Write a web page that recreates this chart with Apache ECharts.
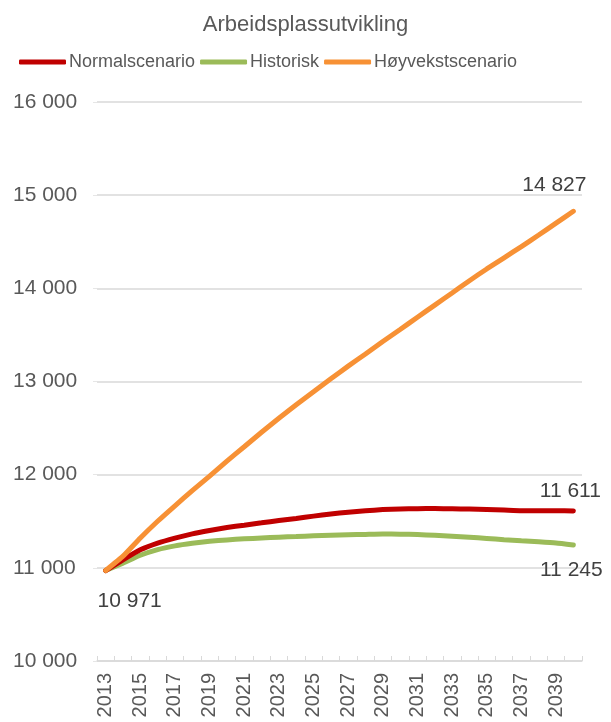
<!DOCTYPE html>
<html>
<head>
<meta charset="utf-8">
<script src="https://cdn.jsdelivr.net/npm/echarts@6/dist/echarts.min.js"></script>
<style>
  html, body { margin: 0; padding: 0; background: #fff; }
  #chart { width: 611px; height: 722px; }
</style>
</head>
<body>
<div id="chart"></div>
<script>
const years = ['2013','2014','2015','2016','2017','2018','2019','2020','2021','2022','2023','2024','2025','2026',
  '2027','2028','2029','2030','2031','2032','2033','2034','2035','2036','2037','2038','2039','2040']

const normal = [10971, 11086, 11193, 11265, 11319, 11365, 11401, 11433, 11458, 11483, 11508, 11530, 11555, 11578,
  11597, 11613, 11625, 11631, 11635, 11636, 11634, 11631, 11626, 11620, 11613, 11614, 11614, 11611]

const historisk = [10971, 11050, 11135, 11196, 11236, 11264, 11285, 11300, 11311, 11321, 11329, 11336, 11344, 11350,
  11355, 11359, 11363, 11361, 11357, 11350, 11340, 11329, 11316, 11302, 11290, 11279, 11266, 11245]

const hoyvekst = [10971, 11125, 11320, 11500, 11666, 11828, 11985, 12145, 12300, 12455, 12605, 12750, 12890, 13030,
  13165, 13295, 13430, 13558, 13690, 13820, 13950, 14082, 14208, 14328, 14448, 14572, 14700, 14827]

const fmt = v => String(v).replace(/\B(?=(\d{3})+(?!\d))/g, ' ')

// label only on selected points
const withLabels = (values, labels) => values.map((v, i) => {
  if (!labels[i]) return v
  return {
    value: v,
    label: Object.assign({
      show: true,
      formatter: p => fmt(p.value),
      color: '#404040',
      fontSize: 21,
      fontFamily: 'Liberation Sans'
    }, labels[i])
  }
})

const last = years.length - 1

const chart = echarts.init(document.getElementById('chart'))

const lineSeries = (name, values, color, labels, z) => ({
  name: name,
  type: 'line',
  data: withLabels(values, labels),
  showSymbol: true,
  symbol: 'circle',
  symbolSize: 0,
  smooth: 0.15,
  z: z,
  label: { show: false },
  lineStyle: { color: color, width: 5, cap: 'round' },
  itemStyle: { color: color }
})

chart.setOption({
  animation: false,
  textStyle: { fontFamily: 'Liberation Sans' },
  title: {
    text: 'Arbeidsplassutvikling',
    left: 'center',
    top: 9,
    textStyle: { color: '#595959', fontSize: 22, fontWeight: 'normal', fontFamily: 'Liberation Sans' }
  },
  legend: {
    left: 14,
    top: 48,
    itemWidth: 47,
    itemHeight: 5,
    itemGap: 5,
    icon: 'roundRect',
    textStyle: { color: '#595959', fontSize: 18, padding: [0, 0, 0, -2] },
    data: ['Normalscenario', 'Historisk', 'Høyvekstscenario']
  },
  grid: {
    left: 97,
    right: 29,
    top: 102,
    bottom: 61
  },
  xAxis: {
    type: 'category',
    data: years,
    boundaryGap: true,
    axisLine: { lineStyle: { color: '#d9d9d9', width: 1.5 } },
    axisTick: { show: true, inside: true, length: 5, interval: 0, lineStyle: { color: '#d9d9d9' } },
    axisLabel: {
      interval: 1,
      rotate: 90,
      margin: 12,
      color: '#595959',
      fontSize: 20
    }
  },
  yAxis: {
    type: 'value',
    min: 10000,
    max: 16000,
    interval: 1000,
    axisLine: { show: false },
    axisTick: { show: true, length: 4, lineStyle: { color: '#e6e6e6' } },
    splitLine: { lineStyle: { color: '#d9d9d9', width: 1.5 } },
    axisLabel: {
      formatter: v => fmt(v),
      align: 'left',
      margin: 84,
      color: '#595959',
      fontSize: 21
    }
  },
  series: [
    lineSeries('Normalscenario', normal, '#C00000', { [last]: { position: 'top', offset: [-3, -4] } }, 3),
    lineSeries('Historisk', historisk, '#9BBB59', {
      0: { position: 'bottom', offset: [24, 15] },
      [last]: { position: 'bottom', offset: [-2, 10] }
    }, 2),
    lineSeries('Høyvekstscenario', hoyvekst, '#F79135', { [last]: { position: 'top', offset: [-19, -11] } }, 4)
  ]
})
</script>
</body>
</html>
